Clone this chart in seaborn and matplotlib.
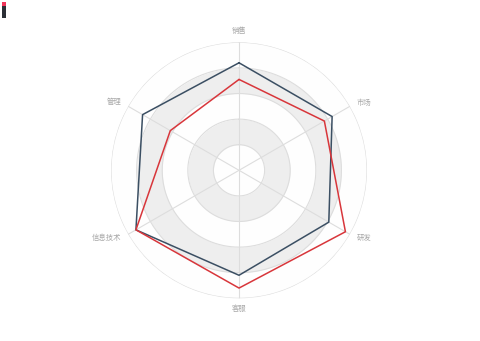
import numpy as np
import pandas as pd
import matplotlib
matplotlib.use("Agg")
import matplotlib.pyplot as plt
import seaborn as sns
from matplotlib.patches import Rectangle

indicators = ["销售", "管理", "信息技术", "客服", "研发", "市场"]
series_names = ["预算分配", "实际开销"]
budget = [84, 87, 93, 82, 81, 84]
actual = [71, 62, 93, 92, 96, 77]
max_value = 100
series_colors = ["#3b4f63", "#d8363b"]
legend_colors = ["#f0355a", "#2b2f36"]

sns.set_theme(style="white")
plt.rcParams["font.family"] = ["Noto Sans CJK SC", "DejaVu Sans"]

fig = plt.figure(figsize=(4.8, 3.41), dpi=100)
fig.patch.set_facecolor("white")
ax = fig.add_axes([0.2313, 0.1252, 0.5333, 0.7507], projection="polar")
ax.set_theta_offset(np.pi / 2)
ax.set_theta_direction(1)
ax.set_ylim(0, max_value)
ax.grid(False)
ax.spines["polar"].set_visible(False)
ax.set_xticks([])
ax.set_yticks([])
ax.set_facecolor("none")

n = len(indicators)
angles = np.arange(n) * 2 * np.pi / n

# split areas
full = np.linspace(0, 2 * np.pi, 361)
levels = np.linspace(0, max_value, 6)
band_colors = ["#fefefe", "#eeeeee"]
for i in range(5):
    ax.fill_between(full, levels[i], levels[i + 1], color=band_colors[i % 2], lw=0, zorder=0)
for lv in levels[1:]:
    ax.plot(full, np.full_like(full, lv), color="#dddddd", lw=0.8, zorder=1)
for a in angles:
    ax.plot([a, a], [0, max_value], color="#dddddd", lw=0.8, zorder=1)

rows = []
for name, vals in zip(series_names, [budget, actual]):
    for k in range(n + 1):
        rows.append({"series": name, "theta": angles[k % n], "r": vals[k % n], "order": k})
df = pd.DataFrame(rows)
sns.lineplot(data=df, x="theta", y="r", hue="series", sort=False, estimator=None,
             units="series", palette=series_colors, lw=1.1, ax=ax, legend=False, zorder=3)
ax.set_xlabel("")
ax.set_ylabel("")

fs = 5.3
lc = "#a8a8a8"
for a, lab in zip(angles, indicators):
    deg = (np.degrees(a) + 90) % 360
    if abs(deg - 90) < 1:
        ax.text(a, max_value * 1.085, lab, ha="center", va="center", fontsize=fs, color=lc)
    elif abs(deg - 270) < 1:
        ax.text(a, max_value * 1.08, lab, ha="center", va="center", fontsize=fs, color=lc)
    elif 90 < deg < 270:
        ax.text(a, max_value * 1.06, lab, ha="right", va="center", fontsize=fs, color=lc)
    else:
        ax.text(a, max_value * 1.06, lab, ha="left", va="center", fontsize=fs, color=lc)

# tiny legend marks at top-left
fig.patches.append(Rectangle((2 / 480, 1 - 6 / 341), 4 / 480, 4 / 341, transform=fig.transFigure,
                             color=legend_colors[0], lw=0))
fig.patches.append(Rectangle((2 / 480, 1 - 18 / 341), 4 / 480, 12 / 341, transform=fig.transFigure,
                             color=legend_colors[1], lw=0))

fig.savefig("out.png", dpi=100, facecolor="white")
